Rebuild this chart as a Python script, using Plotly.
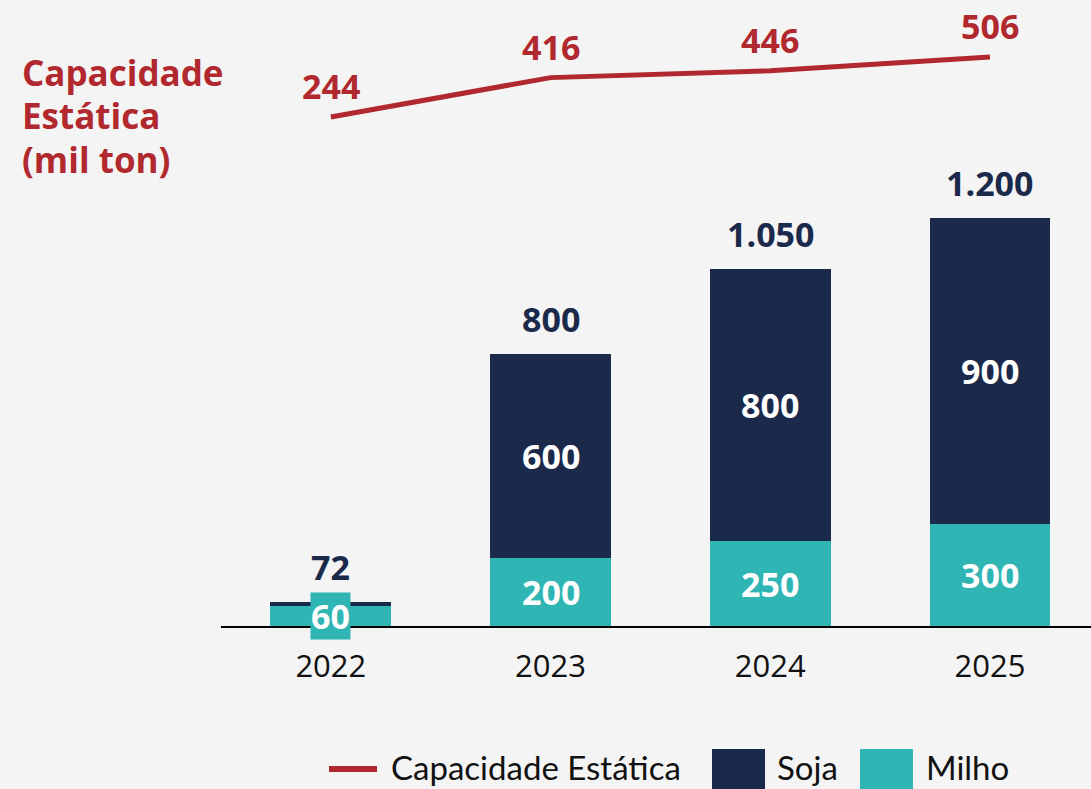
import plotly.graph_objects as go

years = ["2022", "2023", "2024", "2025"]
milho = [60, 200, 250, 300]
soja = [12, 600, 800, 900]
totals = [72, 800, 1050, 1200]
capacidade = [244, 416, 446, 506]
title_lines = ["Capacidade", "Estática", "(mil ton)"]

NAVY = "#1b2a4b"
TEAL = "#2fb5b3"
RED = "#b1282e"
BG = "#f4f4f4"
NUMFONT = "Open Sans"
PLOT_H = 626.0
PLOT_W = 870.0
LEFT = 221.0

def fmt(v):
    return f"{v:,}".replace(",", ".")

def px(xp):
    return (xp - LEFT) / PLOT_W

def py(yp):
    return (PLOT_H - yp) / PLOT_H

fig = go.Figure()
fig.add_trace(go.Bar(x=years, y=milho, name="Milho", marker=dict(color=TEAL, line=dict(width=0)),
                     width=0.55, hoverinfo="skip"))
fig.add_trace(go.Bar(x=years, y=soja, name="Soja", marker=dict(color=NAVY, line=dict(width=0)),
                     width=0.55, hoverinfo="skip"))
fig.add_trace(go.Scatter(x=years, y=capacidade, name="Capacidade Estática", mode="lines",
                         line=dict(color=RED, width=5), yaxis="y2", hoverinfo="skip"))

ann = []
for i, v in enumerate(capacidade):
    ann.append(dict(x=i, y=v, xref="x", yref="y2", text=f"<b>{fmt(v)}</b>", showarrow=False,
                    yshift=31, font=dict(family=NUMFONT, size=34, color=RED)))
for i, t in enumerate(totals):
    ann.append(dict(x=i, y=t, xref="x", yref="y", text=f"<b>{fmt(t)}</b>", showarrow=False,
                    yshift=35, font=dict(family=NUMFONT, size=34, color=NAVY)))
for i, m in enumerate(milho):
    ann.append(dict(x=i, y=m / 2, xref="x", yref="y", text=f"<b>{fmt(m)}</b>", showarrow=False,
                    bgcolor=TEAL, borderpad=0, font=dict(family=NUMFONT, size=34, color="white")))
for i, (m, s) in enumerate(zip(milho, soja)):
    if s >= 100:
        ann.append(dict(x=i, y=m + s / 2, xref="x", yref="y", text=f"<b>{fmt(s)}</b>", showarrow=False,
                        font=dict(family=NUMFONT, size=34, color="white")))

# title (three lines)
for k, line in enumerate(title_lines):
    ann.append(dict(x=px(20), y=py(72 + 43.5 * k), xref="paper", yref="paper", xanchor="left",
                    yanchor="middle", showarrow=False, text=f"<b>{line}</b>",
                    font=dict(family=NUMFONT, size=35, color=RED)))

# custom legend
LEGFONT = dict(family="Lato", size=33, color="#111111")
ly = py(767)
ann.append(dict(x=px(389), y=ly, xref="paper", yref="paper", xanchor="left", yanchor="middle",
                text="Capacidade Estática", showarrow=False, font=LEGFONT))
ann.append(dict(x=px(775), y=ly, xref="paper", yref="paper", xanchor="left", yanchor="middle",
                text="Soja", showarrow=False, font=LEGFONT))
ann.append(dict(x=px(924), y=ly, xref="paper", yref="paper", xanchor="left", yanchor="middle",
                text="Milho", showarrow=False, font=LEGFONT))

shapes = [
    dict(type="line", xref="paper", yref="paper", x0=px(329), x1=px(377), y0=py(769), y1=py(769),
         line=dict(color=RED, width=6)),
    dict(type="rect", xref="paper", yref="paper", x0=px(712), x1=px(765), y0=py(749), y1=py(790),
         fillcolor=NAVY, line=dict(width=0)),
    dict(type="rect", xref="paper", yref="paper", x0=px(860), x1=px(913), y0=py(749), y1=py(790),
         fillcolor=TEAL, line=dict(width=0)),
]

fig.update_layout(
    width=1091, height=789,
    margin=dict(l=221, r=0, t=0, b=163),
    barmode="stack",
    paper_bgcolor=BG, plot_bgcolor=BG,
    showlegend=False,
    annotations=ann,
    shapes=shapes,
    xaxis=dict(type="category", range=[-0.5, 3.46], showgrid=False, zeroline=False,
               showline=True, linecolor="#000000", linewidth=2,
               ticks="", ticklabelstandoff=12,
               tickfont=dict(family="Open Sans", size=31, color="#111111")),
    yaxis=dict(range=[0, 1841], visible=False, showgrid=False, zeroline=False),
    yaxis2=dict(range=[-1979, 755], overlaying="y", visible=False, showgrid=False, zeroline=False),
)

fig.write_html("out.html", config={"displayModeBar": False},
               post_script="document.body.style.margin='0';document.body.style.background='#f4f4f4';")
